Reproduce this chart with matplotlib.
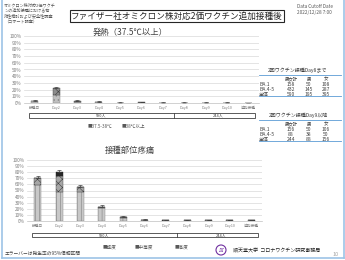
import numpy as np
import matplotlib
matplotlib.use("Agg")
import matplotlib.pyplot as plt
from matplotlib.patches import Rectangle, Ellipse
from matplotlib.ticker import PercentFormatter

plt.rcParams['font.family'] = ['Noto Sans CJK JP', 'DejaVu Sans']
plt.rcParams['hatch.linewidth'] = 0.4

W, H = 345, 260

days = ["接種日", "Day2", "Day3", "Day4", "Day5", "Day6", "Day7",
        "Day8", "Day9", "Day10", "追加接種"]

# fever (%), stacked
fever_low = [2.5, 12.0, 2.0, 1.0, 0.4, 0.7, 0.3, 0.4, 0.4, 0.4, 0.2]
fever_high = [1.0, 10.5, 1.0, 0.5, 0.1, 0.3, 0.1, 0.1, 0.1, 0.1, 0.1]
fever_err = [1.0, 2.0, 1.0, 0.8, 0.5, 0.5, 0.4, 0.4, 0.4, 0.4, 0.3]

# injection site pain (%), stacked
pain_mild = [59, 47, 48, 21, 5.0, 1.5, 0.8, 0.8, 0.8, 0.8, 0.8]
pain_mod = [11, 27, 8, 2, 1.5, 0.5, 0.2, 0.2, 0.2, 0.2, 0.2]
pain_sev = [0.3, 6, 0.3, 0.1, 0, 0, 0, 0, 0, 0, 0]
pain_err = [3, 3, 3, 2.5, 1.5, 0.8, 0.5, 0.7, 0.7, 0.7, 0.7]

groups = ["590人", "244人"]

table_cols = ["男女計", "男", "女"]
table_rows = ["BA.1", "BA.4-5", "全体"]
table1 = [[158, 50, 108], [432, 145, 287], [590, 195, 395]]
table2 = [[156, 50, 106], [88, 38, 50], [244, 88, 156]]

fig = plt.figure(figsize=(W / 100, H / 100), dpi=100)


def fx(x):
    return x / W


def fy(y):
    return 1 - y / H


def txt(x, y, s, size, **kw):
    kw.setdefault("va", "center")
    fig.text(fx(x), fy(y), s, fontsize=size, **kw)


def axes_px(left, top, right, bottom):
    return fig.add_axes([fx(left), fy(bottom), (right - left) / W, (bottom - top) / H])


def style_axes(ax):
    ax.set_xlim(-0.5, len(days) - 0.5)
    ax.set_ylim(0, 100)
    ax.set_yticks(np.arange(0, 101, 10))
    ax.yaxis.set_major_formatter(PercentFormatter(decimals=0))
    ax.grid(axis="y", color="#d9d9d9", lw=0.5)
    ax.set_axisbelow(True)
    for s in ["top", "right", "left"]:
        ax.spines[s].set_visible(False)
    ax.spines["bottom"].set_color("#bfbfbf")
    ax.spines["bottom"].set_linewidth(0.5)
    ax.tick_params(length=0, labelsize=3.4, colors="#7f7f7f", pad=2)
    ax.set_xticks(range(len(days)))
    ax.set_xticklabels(days, fontsize=2.7)


def group_box(ax, y0, y1):
    tr = ax.get_xaxis_transform()
    ax.add_patch(Rectangle((-0.25, y0), 10.55, y1 - y0, transform=tr, fill=False,
                           lw=0.6, ec="#404040", clip_on=False))
    ax.plot([6.5, 6.5], [y0, y1], transform=tr, color="#404040", lw=0.6, clip_on=False)
    ax.text(3.1, (y0 + y1) / 2, groups[0], transform=tr, fontsize=2.8,
            ha="center", va="center", color="#404040")
    ax.text(8.6, (y0 + y1) / 2, groups[1], transform=tr, fontsize=2.8,
            ha="center", va="center", color="#404040")


x = np.arange(len(days))
bw = 0.33

# ---- top chart: fever
ax1 = axes_px(24, 36, 259, 103)
style_axes(ax1)
ax1.bar(x, fever_low, bw, color="#bfbfbf", hatch="....", ec="#7f7f7f", lw=0.3)
ax1.bar(x, fever_high, bw, bottom=fever_low, color="#8c8c8c", hatch="xxxx", ec="#404040", lw=0.3)
top1 = np.array(fever_low) + np.array(fever_high)
ax1.errorbar(x, top1, yerr=[np.zeros(len(x)), fever_err], fmt="none",
             ecolor="#404040", elinewidth=0.5, capsize=1.2, capthick=0.5)
group_box(ax1, -0.15, -0.23)

# ---- bottom chart: pain
ax2 = axes_px(27, 160, 262, 221)
style_axes(ax2)
ax2.bar(x, pain_mild, bw, color="#c8c8c8", hatch="||||", ec="#808080", lw=0.3)
ax2.bar(x, pain_mod, bw, bottom=pain_mild, color="#a6a6a6", hatch="xxxx", ec="#404040", lw=0.3)
bot3 = np.array(pain_mild) + np.array(pain_mod)
ax2.bar(x, pain_sev, bw, bottom=bot3, color="#262626", ec="#262626", lw=0.3)
top2 = bot3 + np.array(pain_sev)
ax2.errorbar(x, top2, yerr=[np.zeros(len(x)), pain_err], fmt="none",
             ecolor="#404040", elinewidth=0.5, capsize=1.2, capthick=0.5)
group_box(ax2, -0.2, -0.27)

# legends (drawn as text with square markers)
for xx, s in [(88, "37.5-38℃"), (122, "38℃以上")]:
    txt(xx, 127, "■" + s, 3.3, color="#595959")
for xx, s in [(103, "軽度"), (135, "中等度"), (175, "高度")]:
    txt(xx, 247, "■" + s, 3.3, color="#595959")

# titles
txt(130, 32, "発熱（37.5℃以上）", 6.0, ha="center", color="#404040")
txt(130, 150, "接種部位疼痛", 6.0, ha="center", color="#404040")

# header
fig.text(fx(177), fy(16), "ファイザー社オミクロン株対応2価ワクチン追加接種後", fontsize=6.2,
         ha="center", va="center", color="#262626",
         bbox=dict(boxstyle="square,pad=0.15", fc="white", ec="#262626", lw=0.8))
for i, s in enumerate(["オミクロン株対応2価ワクチ", "ンの追加接種における有",
                       "効性検討および安全性調査", "（コホート調査）"]):
    txt(4, 5 + i * 5.3, s, 3.0, ha="left", color="#595959")
txt(297, 6, "Data Cutoff Date", 3.4, ha="left", color="#595959")
txt(297, 12, "2022/12/28 7:00", 3.4, ha="left", color="#595959")


# tables
def draw_table(y_title, title, data):
    txt(298, y_title, title, 3.6, ha="center", color="#404040")
    lx = [fx(259), fx(341)]
    fig.add_artist(plt.Line2D(lx, [fy(y_title + 5)] * 2, color="#5b9bd5", lw=0.6))
    for c, cx in zip(table_cols, [291, 309, 326]):
        txt(cx, y_title + 9, c, 3.2, ha="center", color="#404040")
    for r, row in enumerate(data):
        yy = y_title + 14.5 + r * 4.8
        txt(259, yy, table_rows[r], 3.6, ha="left", color="#404040")
        for v, cx in zip(row, [291, 309, 326]):
            txt(cx, yy, str(v), 3.6, ha="center", color="#404040")
    fig.add_artist(plt.Line2D(lx, [fy(y_title + 26)] * 2, color="#5b9bd5", lw=0.6))


draw_table(70, "2回ワクチン接種Day8まで", table1)
draw_table(115, "2回ワクチン接種Day9以降", table2)

# footer
txt(5, 253, "エラーバーは発生率の95%信頼区間", 3.4, ha="left", color="#404040")
fig.add_artist(Ellipse((fx(221), fy(250)), 10 / W, 10 / H, fc="white", ec="#7030a0", lw=0.8))
txt(221, 250, "∭", 3.5, ha="center", color="#7030a0")
txt(233, 251, "順天堂大学  コロナワクチン研究事務局", 3.6, ha="left", color="#262626")
txt(336, 255, "10", 4.0, ha="center", color="#a6a6a6")

# slide frame
fc = "#9dc3e6"
fig.add_artist(plt.Line2D([fx(1.5), fx(1.5)], [fy(0), fy(258)], color=fc, lw=1.2))
fig.add_artist(plt.Line2D([fx(343.5), fx(343.5)], [fy(0), fy(258)], color=fc, lw=1.2))
fig.add_artist(plt.Line2D([fx(1.5), fx(343.5)], [fy(258), fy(258)], color=fc, lw=1.2))

fig.savefig("out.png", dpi=100)
